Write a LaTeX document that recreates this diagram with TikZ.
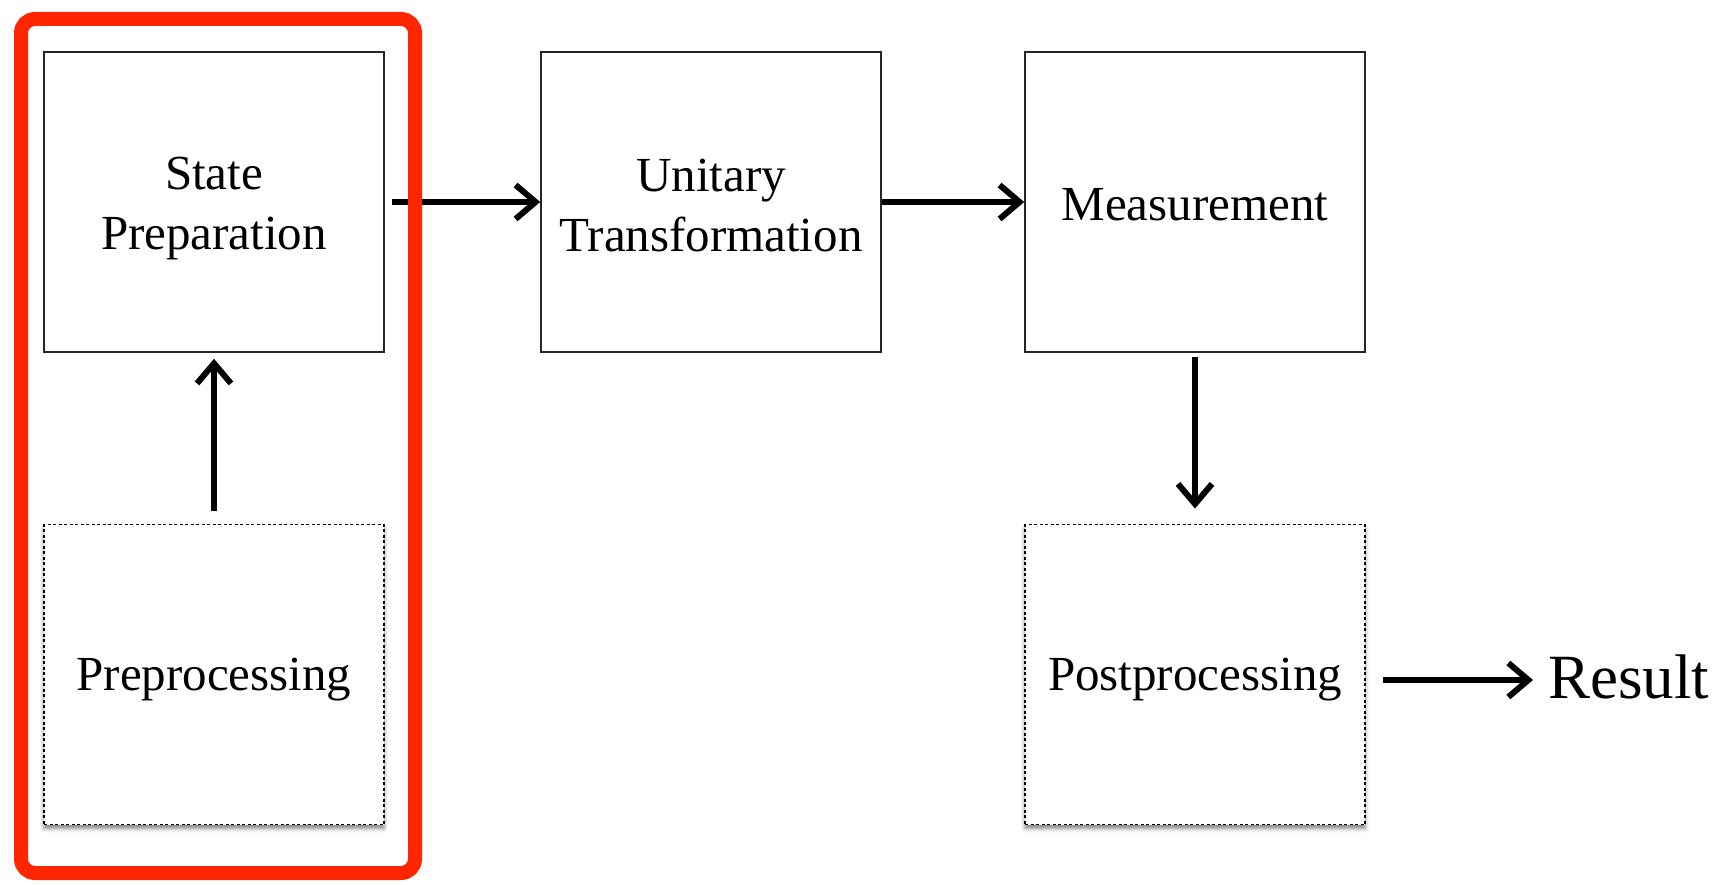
\documentclass[tikz,border=0pt]{standalone}
\usepackage{fontspec}
\setmainfont{Liberation Serif}
\usetikzlibrary{arrows.meta,shadows.blur}
\definecolor{framered}{RGB}{255,38,0}
\begin{document}
\begin{tikzpicture}[x=1pt,y=-1pt,
  box/.style={draw=black!85, line width=1.6pt, minimum width=340pt, minimum height=300pt,
    inner sep=0pt, fill=white},
  boxtext/.style={align=center, inner sep=0pt, font=\fontsize{49}{60}\selectfont},
  optbox/.style={box, draw=black, line width=1.9pt, dash pattern=on 3pt off 2.5pt,
    blur shadow={shadow xshift=0pt, shadow yshift=-4pt, shadow blur radius=4pt, shadow opacity=50}},
  flow/.style={line width=6pt, -{Straight Barb[length=20pt,width=34pt]}},
]
\useasboundingbox (0,0) rectangle (1736,885);
\node[box, label={[boxtext, yshift=-6.5pt]center:{State\\Preparation}}] (prep) at (214,202) {};
\node[box, label={[boxtext, yshift=-3.5pt]center:{Unitary\\Transformation}}] (unit) at (711,202) {};
\node[box, label={[boxtext, yshift=-2.5pt]center:{Measurement}}] (meas) at (1195,202) {};
\node[optbox, label={[boxtext, yshift=-5.5pt]center:{Preprocessing}}] (pre) at (214,674.5) {};
\node[optbox, label={[boxtext, yshift=-5.5pt]center:{Postprocessing}}] (post) at (1195,674.5) {};
\node[anchor=west, inner sep=0pt, text depth=7pt, font=\fontsize{63}{70}\selectfont] (res) at (1548,680) {Result};

\draw[flow, shorten <=7pt] (prep) -- (unit);
\draw[flow] (unit) -- (meas);
\draw[flow, shorten <=13pt, shorten >=6pt] (pre) -- (prep);
\draw[flow, shorten <=4pt, shorten >=15pt] (meas) -- (post);
\draw[flow, shorten <=17pt, shorten >=15pt] (post.east |- res.west) -- (res.west);

\draw[framered, line width=14pt, rounded corners=14pt] (21,19) rectangle (415,873);
\end{tikzpicture}
\end{document}
